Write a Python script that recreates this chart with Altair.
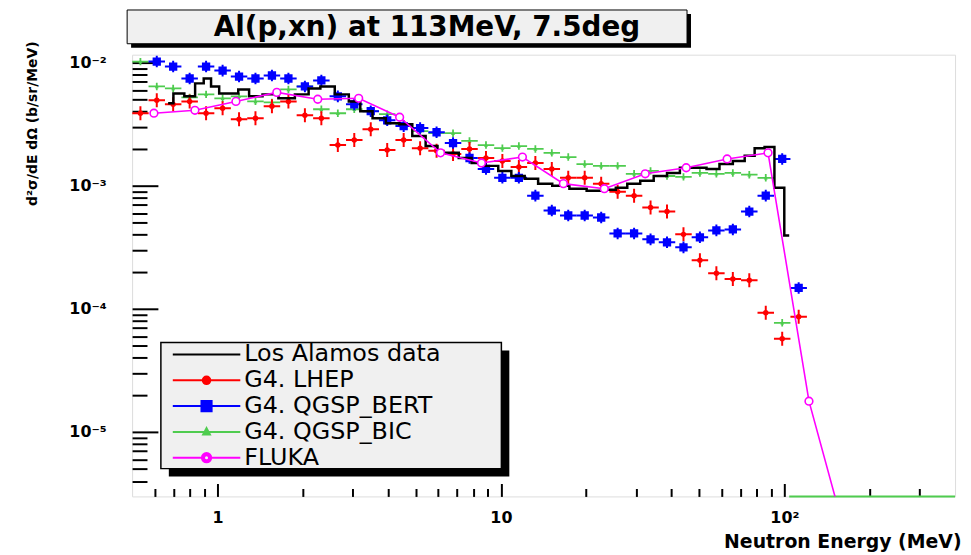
import altair as alt
import pandas as pd

# ---------------- data ----------------
# bin centres of the Geant4 histograms (MeV)
g4_energy = [0.535, 0.611, 0.698, 0.798, 0.912, 1.043, 1.192, 1.362, 1.557, 1.780,
             2.035, 2.326, 2.659, 3.039, 3.474, 3.971, 4.539, 5.188, 5.930, 6.779,
             7.749, 8.858, 10.12, 11.57, 13.23, 15.12, 17.28, 19.75, 22.58, 25.81,
             29.50, 33.72, 38.54, 44.06, 50.35, 57.56, 65.79, 75.20, 85.96, 98.24,
             112.3]

lhep_value = [3.88e-3, 4.94e-3, 4.58e-3, 4.84e-3, 3.88e-3, 4.26e-3, 3.47e-3, 3.53e-3, 4.42e-3, 4.84e-3,
              3.74e-3, 3.53e-3, 2.14e-3, 2.35e-3, 2.88e-3, 1.95e-3, 2.35e-3, 2.02e-3, 1.92e-3, 1.81e-3,
              1.99e-3, 1.68e-3, 1.59e-3, 1.42e-3, 1.53e-3, 1.37e-3, 1.16e-3, 1.16e-3, 1.04e-3, 8.95e-4,
              8.31e-4, 6.65e-4, 6.17e-4, 4.03e-4, 2.48e-4, 1.95e-4, 1.75e-4, 1.71e-4, 9.29e-5, 5.73e-5,
              8.62e-5]

bert_energy = g4_energy[1:41]
bert_value = [1.019e-2, 9.29e-3, 7.43e-3, 9.29e-3, 8.61e-3, 7.70e-3, 7.43e-3, 7.86e-3, 7.43e-3, 6.40e-3,
              7.16e-3, 5.32e-3, 4.58e-3, 4.03e-3, 3.40e-3, 3.05e-3, 2.94e-3, 2.72e-3, 2.22e-3, 1.68e-3,
              1.37e-3, 1.16e-3, 1.16e-3, 8.31e-4, 6.29e-4, 5.73e-4, 5.73e-4, 5.52e-4, 4.10e-4, 4.10e-4,
              3.67e-4, 3.47e-4, 3.16e-4, 3.81e-4, 4.34e-4, 4.42e-4, 6.17e-4, 8.31e-4, 1.65e-3, 1.48e-4]

bic_energy = g4_energy[0:40]
bic_value = [1.019e-2, 6.40e-3, 6.17e-3, 5.22e-3, 5.52e-3, 5.13e-3, 5.32e-3, 4.84e-3, 4.75e-3, 6.05e-3,
             6.40e-3, 4.18e-3, 3.88e-3, 4.18e-3, 4.03e-3, 3.81e-3, 3.16e-3, 2.78e-3, 2.67e-3, 2.67e-3,
             2.31e-3, 2.14e-3, 2.02e-3, 2.10e-3, 1.99e-3, 1.85e-3, 1.71e-3, 1.50e-3, 1.45e-3, 1.45e-3,
             1.25e-3, 1.32e-3, 1.20e-3, 1.18e-3, 1.27e-3, 1.25e-3, 1.27e-3, 1.23e-3, 1.16e-3, 7.71e-5]
# empty QGSP_BIC bins above 100 MeV (drawn on the lower frame)
bic_zero_energy = [104, 400]
bic_zero_value = [3e-6, 3e-6]

data_energy = [0.67, 0.73, 0.80, 0.87, 0.92, 0.98, 1.05, 1.14, 1.23, 1.36, 1.53, 1.76,
               2.0, 2.2, 2.42, 2.78, 3.04, 3.35, 3.71, 4.16, 4.62, 5.13, 5.74, 6.22,
               6.74, 7.48, 8.31, 9.3, 10.3, 11.5, 12.8, 14.3, 16.1, 18.9, 21.3, 24.4,
               26.5, 29.4, 32.7, 36.6, 40.6, 45.1, 50.4, 56.0, 62.2, 69.6, 75.4, 81.8,
               88.6, 96.0, 104.0]
data_value = [4.67e-3, 5.62e-3, 5.32e-3, 6.78e-3, 7.43e-3, 6.40e-3, 5.62e-3, 5.62e-3, 6.05e-3, 5.32e-3, 5.52e-3, 5.13e-3,
              5.52e-3, 6.17e-3, 6.40e-3, 5.52e-3, 4.84e-3, 4.03e-3, 3.53e-3, 3.22e-3, 3.16e-3, 2.53e-3, 2.10e-3, 1.85e-3,
              1.85e-3, 1.68e-3, 1.53e-3, 1.45e-3, 1.32e-3, 1.20e-3, 1.14e-3, 1.04e-3, 1.00e-3, 9.46e-4, 9.11e-4, 9.28e-4,
              9.63e-4, 1.04e-3, 1.10e-3, 1.20e-3, 1.27e-3, 1.40e-3, 1.40e-3, 1.37e-3, 1.50e-3, 1.59e-3, 1.75e-3, 2.02e-3,
              2.06e-3, 9.63e-4, 3.95e-4]

fluka_energy = [0.597, 0.833, 1.162, 1.620, 2.259, 3.150, 4.393, 6.124, 8.54, 11.91,
                16.61, 23.16, 32.29, 45.04, 62.81, 87.57, 122.1, 170.2]
fluka_value = [3.88e-3, 4.10e-3, 4.84e-3, 5.73e-3, 5.04e-3, 5.13e-3, 3.60e-3, 1.85e-3, 1.53e-3, 1.71e-3,
               1.04e-3, 9.46e-4, 1.25e-3, 1.40e-3, 1.65e-3, 1.85e-3, 1.78e-5, 1.08e-6]

series_names = ["Los Alamos data", "G4. LHEP", "G4. QGSP_BERT", "G4. QGSP_BIC", "FLUKA"]
series_colors = ["#000000", "#ff0000", "#0000ff", "#4fcc4f", "#ff00ff"]

x_major = [1, 10, 100]
x_minor = [0.6, 0.7, 0.8, 0.9, 2, 3, 4, 5, 6, 7, 8, 9, 20, 30, 40, 50, 60, 70, 80, 90, 200, 300]
y_major = [1e-5, 1e-4, 1e-3, 1e-2]
y_minor = [4e-6, 5e-6, 6e-6, 7e-6, 8e-6, 9e-6,
           2e-5, 3e-5, 4e-5, 5e-5, 6e-5, 7e-5, 8e-5, 9e-5,
           2e-4, 3e-4, 4e-4, 5e-4, 6e-4, 7e-4, 8e-4, 9e-4,
           2e-3, 3e-3, 4e-3, 5e-3, 6e-3, 7e-3, 8e-3, 9e-3]

# ---------------- styling ----------------
FONT = "DejaVu Sans"
RED, BLUE, GREEN, MAG = series_colors[1], series_colors[2], series_colors[3], series_colors[4]

# legend symbols: line sample + marker (unit = half of sqrt(symbolSize))
legend_shapes = [
    "M-4,0L4,0",
    "M-4,0L4,0M-0.45,0A0.45,0.45 0 1,0 0.45,0A0.45,0.45 0 1,0 -0.45,0Z",
    "M-4,0L4,0M-0.6,-0.6L0.6,-0.6L0.6,0.6L-0.6,0.6Z",
    "M-4,0L4,0M0,-0.45L0.4,0.3L-0.4,0.3Z",
    "M-4,0L-0.55,0M0.55,0L4,0M-0.55,0A0.55,0.55 0 1,0 0.55,0A0.55,0.55 0 1,0 -0.55,0Z"
    "M-0.3,0A0.3,0.3 0 1,1 0.3,0A0.3,0.3 0 1,1 -0.3,0Z",
]

xs = alt.Scale(type="log", domain=[0.5, 400], nice=False)
ys = alt.Scale(type="log", domain=[3e-6, 0.0116], nice=False)

ax_x_major = alt.Axis(values=x_major, orient="bottom", offset=-13, tickSize=13, tickWidth=2,
                      tickColor="black", domain=False, grid=False,
                      labelExpr="datum.value >= 100 ? '10²' : (datum.value >= 10 ? '10' : '1')",
                      labelFont=FONT, labelFontWeight="bold", labelFontSize=16, labelColor="black",
                      labelPadding=13, labelBaseline="top", labelFlush=False, labelOverlap=False,
                      title="Neutron Energy (MeV)", titleFont=FONT, titleFontSize=19,
                      titleFontWeight="bold", titleColor="black", titleX=835, titleY=64,
                      titleAlign="right", titleBaseline="alphabetic", titleAngle=0)
ax_x_minor = alt.Axis(values=x_minor, orient="bottom", offset=-8, tickSize=8, tickWidth=2,
                      tickColor="black", domain=False, grid=False, labels=False, title=None)
ax_y_major = alt.Axis(values=y_major, orient="left", offset=-26, tickSize=26, tickWidth=2,
                      tickColor="black", domain=False, grid=False,
                      labelExpr="datum.value < 3e-5 ? '10⁻⁵' : (datum.value < 3e-4 ? '10⁻⁴' : (datum.value < 3e-3 ? '10⁻³' : '10⁻²'))",
                      labelFont=FONT, labelFontWeight="bold", labelFontSize=16, labelColor="black",
                      labelPadding=26, labelBaseline="middle", labelAlign="right",
                      labelFlush=False, labelOverlap=False,
                      title="d²σ/dE dΩ (b/sr/MeV)", titleFont=FONT, titleFontSize=14,
                      titleFontWeight="bold", titleColor="black", titleX=-126, titleY=69,
                      titleAngle=270, titleAlign="center", titleBaseline="middle")
ax_y_minor = alt.Axis(values=y_minor, orient="left", offset=-15, tickSize=15, tickWidth=2,
                      tickColor="black", domain=False, grid=False, labels=False, title=None)


def enc(xaxis=None, yaxis=None):
    return dict(x=alt.X("E:Q", scale=xs, axis=xaxis), y=alt.Y("v:Q", scale=ys, axis=yaxis))


lhep_df = pd.DataFrame({"E": g4_energy, "v": lhep_value})
bert_df = pd.DataFrame({"E": bert_energy, "v": bert_value})
bic_df = pd.DataFrame({"E": bic_energy, "v": bic_value})
bic_zero_df = pd.DataFrame({"E": bic_zero_energy, "v": bic_zero_value})
data_df = pd.DataFrame({"E": data_energy, "v": data_value})
fluka_df = pd.DataFrame({"E": fluka_energy, "v": fluka_value})
legend_df = pd.DataFrame({"series": series_names, "E": [1] * 5, "v": [1e-9] * 5})
decor = pd.DataFrame({"k": [0]})

# ---------------- decorations: title pave and legend box ----------------
title_shadow = alt.Chart(decor).mark_rect(fill="black").encode(
    x=alt.value(-1), x2=alt.value(563), y=alt.value(-41), y2=alt.value(-7))
title_box = alt.Chart(decor).mark_rect(fill="#f0f0f0", stroke="black", strokeWidth=1).encode(
    x=alt.value(-5), x2=alt.value(559), y=alt.value(-45), y2=alt.value(-11))
title_text = alt.Chart(decor).mark_text(
    text="Al(p,xn) at 113MeV, 7.5deg", font=FONT, fontSize=28, fontWeight="bold",
    color="black", align="center", baseline="middle").encode(x=alt.value(297), y=alt.value(-27))
legend_shadow = alt.Chart(decor).mark_rect(fill="black").encode(
    x=alt.value(37), x2=alt.value(380), y=alt.value(298), y2=alt.value(425))
legend_box = alt.Chart(decor).mark_rect(fill="#f0f0f0", stroke="black", strokeWidth=1.5).encode(
    x=alt.value(29), x2=alt.value(372), y=alt.value(290), y2=alt.value(417))

# ---------------- series ----------------
bic_cross = alt.Chart(bic_df).mark_point(
    shape="M-1,0L1,0M0,-0.45L0,0.45", size=276, stroke=GREEN, strokeWidth=1.8,
    filled=False, opacity=1, clip=True).encode(**enc(ax_x_major, ax_y_major))
bic_mark = alt.Chart(bic_df).mark_point(
    shape="triangle-up", size=16, fill=GREEN, filled=True, opacity=1, clip=True).encode(**enc())
bic_zero = alt.Chart(bic_zero_df).mark_line(color=GREEN, strokeWidth=2).encode(**enc())

lhep_cross = alt.Chart(lhep_df).mark_point(
    shape="M-1,0L1,0M0,-0.85L0,0.85", size=276, stroke=RED, strokeWidth=2,
    filled=False, opacity=1, clip=True).encode(**enc(ax_x_minor, ax_y_minor))
lhep_mark = alt.Chart(lhep_df).mark_point(
    shape="circle", size=30, fill=RED, filled=True, opacity=1, clip=True).encode(**enc())

bert_cross = alt.Chart(bert_df).mark_point(
    shape="M-1,0L1,0M0,-0.7L0,0.7", size=276, stroke=BLUE, strokeWidth=2,
    filled=False, opacity=1, clip=True).encode(**enc())
bert_mark = alt.Chart(bert_df).mark_point(
    shape="square", size=70, fill=BLUE, filled=True, opacity=1, clip=True).encode(**enc())

data_line = alt.Chart(data_df).mark_line(
    color="black", strokeWidth=2.5, interpolate="step", clip=True).encode(**enc())

fluka_line = alt.Chart(fluka_df).mark_line(color=MAG, strokeWidth=1.6, clip=True).encode(**enc())
fluka_mark = alt.Chart(fluka_df).mark_point(
    shape="circle", size=60, stroke=MAG, strokeWidth=1.6, fill="white", filled=False,
    opacity=1, clip=True).encode(**enc())

leg = alt.Legend(orient="none", legendX=29, legendY=290, title=None, padding=0,
                 symbolSize=289, symbolStrokeWidth=2, symbolOffset=34, symbolOpacity=1,
                 labelOffset=26, labelFont=FONT, labelFontSize=24, labelColor="black",
                 labelLimit=400, rowPadding=2)
legend_layer = alt.Chart(legend_df).mark_point(filled=True, strokeWidth=2, opacity=1, clip=True).encode(
    **enc(),
    fill=alt.Fill("series:N", scale=alt.Scale(domain=series_names, range=series_colors), legend=leg),
    stroke=alt.Stroke("series:N", scale=alt.Scale(domain=series_names, range=series_colors), legend=leg),
    shape=alt.Shape("series:N", scale=alt.Scale(domain=series_names, range=legend_shapes), legend=leg),
)

chart = alt.layer(
    title_shadow, title_box, title_text, legend_shadow, legend_box,
    bic_cross, bic_mark, bic_zero, lhep_cross, lhep_mark, bert_cross, bert_mark,
    data_line, fluka_line, fluka_mark, legend_layer,
).resolve_axis(x="independent", y="independent").properties(
    width=829, height=445,
    autosize=alt.AutoSizeParams(type="none"),
    padding={"left": 125, "top": 45, "right": 8, "bottom": 57},
).configure_view(stroke="black", strokeWidth=2).configure(background="white")

chart.save("out.html", embed_options={"renderer": "svg", "actions": False})
